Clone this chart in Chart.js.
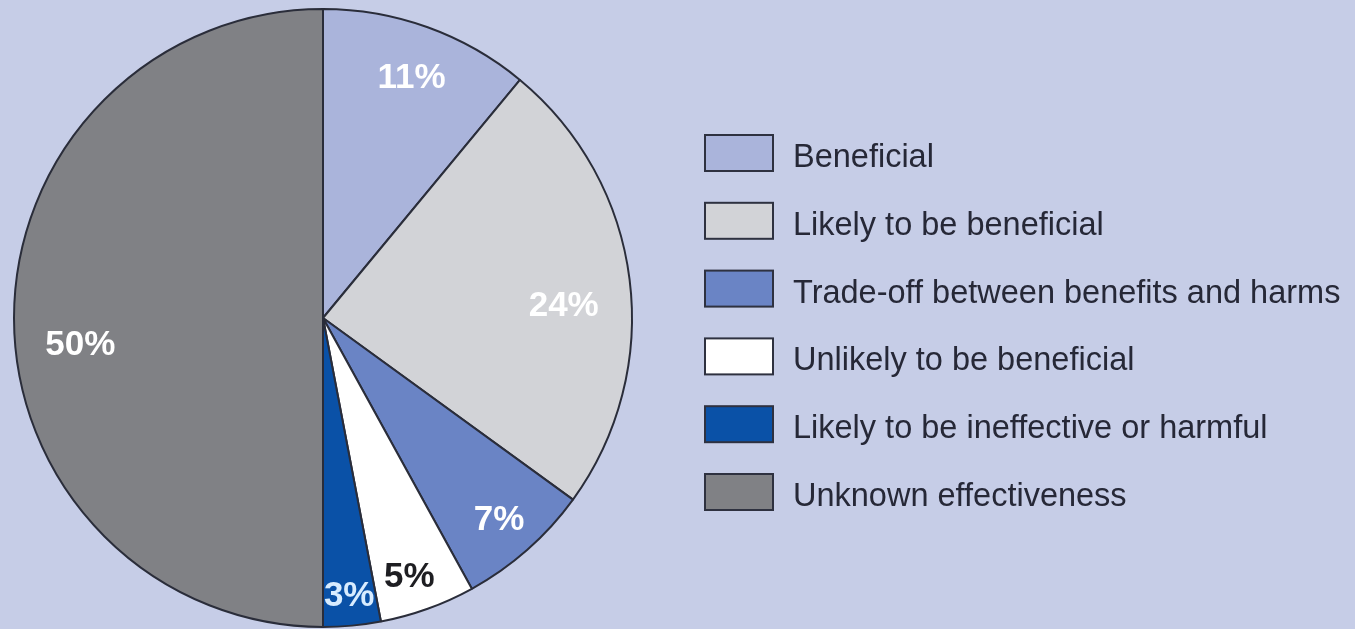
<!DOCTYPE html>
<html lang="en">
<head>
    <meta charset="UTF-8">
    <title>Effectiveness of treatments</title>
    <script src="https://cdn.jsdelivr.net/npm/chart.js"></script>
    <style>
        html, body { margin: 0; padding: 0; background: #c6cde7; }
        .chart-container { position: relative; width: 1355px; height: 629px; }
    </style>
</head>
<body>
    <div class="chart-container">
        <canvas id="effectPie"></canvas>
    </div>

    <script>
        // data (percent of treatments)
        const categories = [
            'Beneficial',
            'Likely to be beneficial',
            'Trade-off between benefits and harms',
            'Unlikely to be beneficial',
            'Likely to be ineffective or harmful',
            'Unknown effectiveness'
        ];
        const shares = [11, 24, 7, 5, 3, 50];

        const sliceColors = ['#aab4db', '#d2d3d7', '#6a84c5', '#ffffff', '#0a51a7', '#808185'];
        const labelColors = ['#ffffff', '#ffffff', '#ffffff', '#1e1e22', '#d8ecff', '#ffffff'];
        // label placement: fraction of radius, and angle nudge (deg) from slice middle
        const labelRadius = [0.83, 0.78, 0.865, 0.88, 0.90, 0.79];
        const labelNudge = [0.4, 4.2, 0.2, 1.3, 0, -6.3];

        // percentage labels inside slices
        const sliceLabels = {
            id: 'sliceLabels',
            afterDatasetsDraw(chart) {
                const ctx = chart.ctx;
                const arcs = chart.getDatasetMeta(0).data;
                ctx.save();
                ctx.font = 'bold 35px "Liberation Sans", Arial, Helvetica, sans-serif';
                ctx.textAlign = 'center';
                ctx.textBaseline = 'middle';
                arcs.forEach((arc, i) => {
                    const p = arc.getProps(['x', 'y', 'startAngle', 'endAngle', 'outerRadius'], true);
                    const a = (p.startAngle + p.endAngle) / 2 + labelNudge[i] * Math.PI / 180;
                    const r = p.outerRadius * labelRadius[i];
                    ctx.fillStyle = labelColors[i];
                    ctx.fillText(shares[i] + '%', p.x + r * Math.cos(a), p.y + r * Math.sin(a) + 1);
                });
                ctx.restore();
            }
        };

        // legend on the right with big boxes
        const sideLegend = {
            id: 'sideLegend',
            afterDraw(chart) {
                const ctx = chart.ctx;
                const top = 157, step = 67.8;
                ctx.save();
                ctx.font = '32.5px "Liberation Sans", Arial, Helvetica, sans-serif';
                ctx.textBaseline = 'middle';
                chart.data.labels.forEach((lab, i) => {
                    const y = top + i * step;
                    ctx.fillStyle = sliceColors[i];
                    ctx.fillRect(705, y - 22, 68, 36);
                    ctx.lineWidth = 2;
                    ctx.strokeStyle = '#2e3140';
                    ctx.strokeRect(705, y - 22, 68, 36);
                    ctx.fillStyle = '#262837';
                    ctx.fillText(lab, 793, y + 1);
                });
                ctx.restore();
            }
        };

        new Chart(document.getElementById('effectPie'), {
            type: 'pie',
            data: {
                labels: categories,
                datasets: [{
                    data: shares,
                    backgroundColor: sliceColors,
                    borderColor: '#2a2d3a',
                    borderWidth: 2
                }]
            },
            options: {
                responsive: true,
                maintainAspectRatio: false,
                animation: false,
                layout: { padding: { left: 13, right: 722, top: 8, bottom: 1 } },
                plugins: {
                    legend: { display: false },
                    tooltip: { enabled: false }
                }
            },
            plugins: [sliceLabels, sideLegend]
        });
    </script>
</body>
</html>
